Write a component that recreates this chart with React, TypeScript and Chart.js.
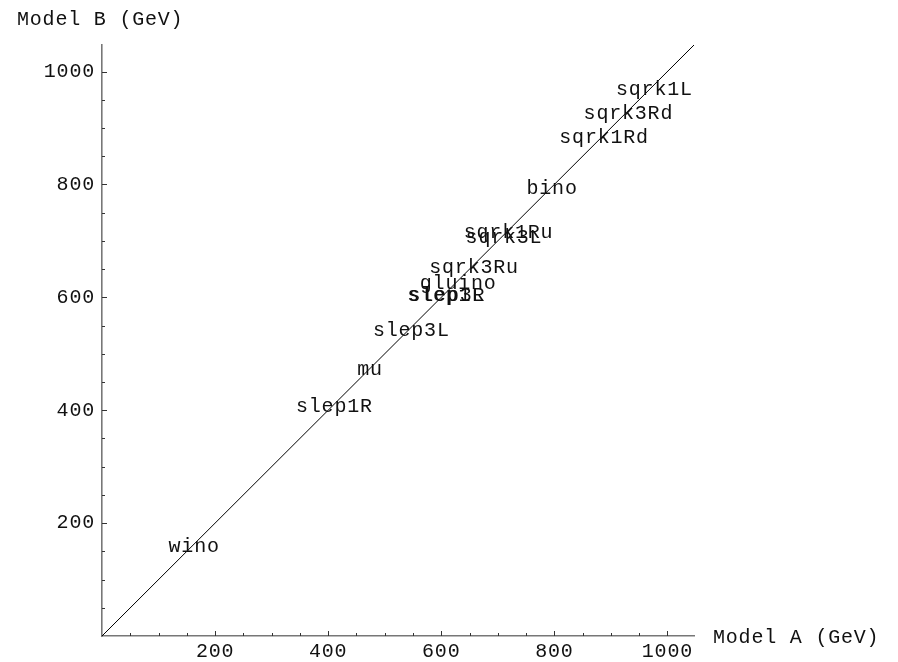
import React, { useEffect, useRef } from 'react';
import { Chart, registerables } from 'chart.js';

Chart.register(...registerables);

// ---- data ----
const particles = ['wino', 'slep1R', 'mu', 'slep3L', 'slep1L', 'slep3R', 'gluino', 'sqrk3Ru', 'sqrk3L', 'sqrk1Ru', 'bino', 'sqrk1Rd', 'sqrk3Rd', 'sqrk1L'];
const modelA = [163, 411, 474, 547, 608, 610, 630, 658, 711, 719, 796, 888, 931, 977];
const modelB = [159, 406, 472, 541, 603, 602, 625, 652, 705, 714, 792, 882, 926, 968];
const diagonalA = [0, 1047];
const diagonalB = [0, 1047];
const axisMin = 0;
const axisMax = 1047;
const majorStep = 200;
const minorStep = 50;
const xTitle = 'Model A (GeV)';
const yTitle = 'Model B (GeV)';

const FONT_FAMILY = '"Liberation Mono", "Courier New", monospace';
const FONT_SIZE = 20;
const LETTER_SPACING = '0.8px';

const mathPlugin = {
  id: 'mathStyle',
  beforeDraw(chart: any) {
    chart.ctx.letterSpacing = LETTER_SPACING;
  },
  afterDraw(chart: any) {
    const ctx = chart.ctx;
    const xs = chart.scales.x;
    const ys = chart.scales.y;
    const area = chart.chartArea;
    ctx.save();
    ctx.letterSpacing = LETTER_SPACING;
    // inward tick marks
    ctx.strokeStyle = '#333';
    ctx.lineWidth = 1;
    for (let v = minorStep; v <= axisMax; v += minorStep) {
      const major = v % majorStep === 0;
      const len = major ? 5 : 3;
      const px = Math.round(xs.getPixelForValue(v)) + 0.5;
      ctx.beginPath();
      ctx.moveTo(px, area.bottom);
      ctx.lineTo(px, area.bottom - len);
      ctx.stroke();
      const py = Math.round(ys.getPixelForValue(v)) + 0.5;
      ctx.beginPath();
      ctx.moveTo(area.left, py);
      ctx.lineTo(area.left + len, py);
      ctx.stroke();
    }
    // point labels
    ctx.font = `${FONT_SIZE}px ${FONT_FAMILY}`;
    ctx.fillStyle = '#111';
    ctx.textAlign = 'center';
    ctx.textBaseline = 'middle';
    const meta = chart.getDatasetMeta(1);
    meta.data.forEach((pt: any, i: number) => {
      ctx.fillText(particles[i], pt.x, pt.y);
    });
    // axis titles
    ctx.textAlign = 'left';
    ctx.fillText(yTitle, 17, 20);
    ctx.fillText(xTitle, area.right + 19, area.bottom + 2);
    ctx.restore();
    ctx.letterSpacing = '0px';
  },
};

const tickFmt = (v: any) => {
  const n = Number(v);
  return n !== 0 && n % majorStep === 0 ? String(n) : '';
};

export default function App() {
  const ref = useRef<HTMLCanvasElement>(null);
  useEffect(() => {
    if (!ref.current) return;
    const chart = new Chart(ref.current, {
      type: 'scatter',
      data: {
        datasets: [
          {
            label: 'diagonal',
            data: diagonalA.map((a, i) => ({ x: a, y: diagonalB[i] })),
            showLine: true,
            borderColor: '#000',
            borderWidth: 1,
            pointRadius: 0,
          },
          {
            label: 'particles',
            data: modelA.map((a, i) => ({ x: a, y: modelB[i] })),
            showLine: false,
            pointRadius: 0,
            borderColor: 'transparent',
            backgroundColor: 'transparent',
          },
        ],
      },
      options: {
        responsive: false,
        animation: false,
        events: [],
        layout: { padding: { left: 0, top: 45, right: 204, bottom: 0 } },
        plugins: { legend: { display: false }, tooltip: { enabled: false } },
        scales: {
          x: {
            type: 'linear',
            min: axisMin,
            max: axisMax,
            grid: { display: false, drawTicks: false },
            border: { display: true, color: '#777', width: 1.6 },
            ticks: {
              stepSize: majorStep,
              includeBounds: false,
              autoSkip: false,
              maxRotation: 0,
              padding: 4,
              color: '#111',
              font: { family: FONT_FAMILY, size: FONT_SIZE },
              callback: tickFmt,
            },
            afterFit(scale: any) {
              scale.height = 26;
            },
          },
          y: {
            type: 'linear',
            min: axisMin,
            max: axisMax,
            grid: { display: false, drawTicks: false },
            border: { display: true, color: '#777', width: 1.6 },
            ticks: {
              stepSize: majorStep,
              includeBounds: false,
              autoSkip: false,
              padding: 7,
              color: '#111',
              font: { family: FONT_FAMILY, size: FONT_SIZE },
              callback: tickFmt,
            },
            afterFit(scale: any) {
              scale.width = 102;
            },
          },
        },
      },
      plugins: [mathPlugin],
    } as any);
    return () => chart.destroy();
  }, []);
  return (
    <div style={{ position: 'absolute', left: 0, top: 0, width: 898, height: 662, background: '#fff' }}>
      <canvas ref={ref} width={898} height={662} style={{ width: 898, height: 662 }} />
    </div>
  );
}
